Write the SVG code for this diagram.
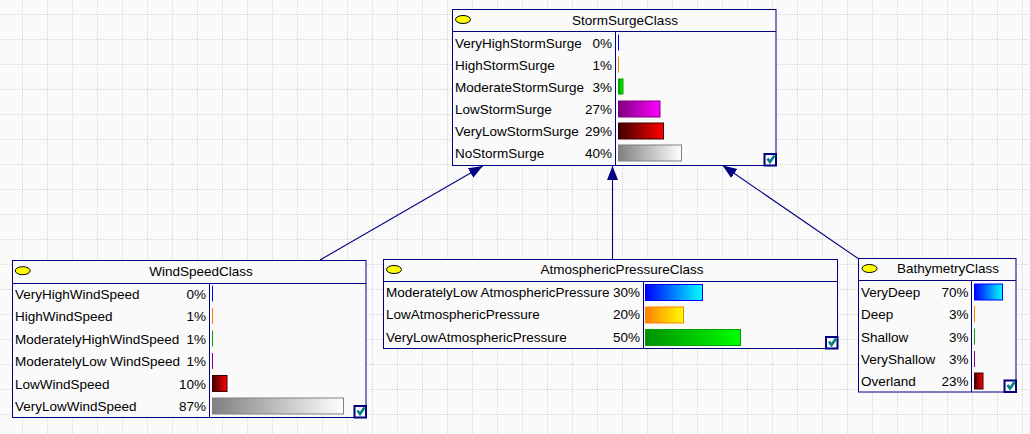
<svg xmlns="http://www.w3.org/2000/svg" width="1030" height="434" viewBox="0 0 1030 434">
<style>
text{font-family:"Liberation Sans",Arial,sans-serif;font-size:13.5px;fill:#000}
.t{text-anchor:middle}
.p{text-anchor:end}
.box{fill:#fafafa;stroke:#000080;stroke-width:1}
.sep{stroke:#000080;stroke-width:1;fill:none}
.ell{fill:#ffff00;stroke:#000;stroke-width:1}
.chk{fill:#fafafa;stroke:#000080;stroke-width:2}
.tick{fill:none;stroke:#008080;stroke-width:2.6;stroke-linejoin:miter}
.conn{stroke:#000080;stroke-width:1.1;fill:none;marker-end:url(#ah)}
.bB{fill:url(#gB);stroke:#0000ff}
.bO{fill:url(#gO);stroke:#ff8000}
.bG{fill:url(#gG);stroke:#00a000}
.bM{fill:url(#gM);stroke:#800080}
.bR{fill:url(#gR);stroke:#400000}
.bK{fill:url(#gK);stroke:#808080}
.lB{stroke:#0000ff;stroke-width:1}
.lO{stroke:#ff8000;stroke-width:1}
.lG{stroke:#00a000;stroke-width:1}
.lM{stroke:#800080;stroke-width:1}
</style>
<defs>
<pattern id="grid" x="22" y="14" width="25" height="25" patternUnits="userSpaceOnUse">
<path d="M0.5,0 V25 M0,0.5 H25" stroke="#d6d6d6" stroke-width="1" stroke-dasharray="1 1" fill="none"/>
</pattern>
<linearGradient id="gB"><stop offset="0" stop-color="#0000ff"/><stop offset="1" stop-color="#00ffff"/></linearGradient>
<linearGradient id="gO"><stop offset="0" stop-color="#ff8000"/><stop offset="1" stop-color="#ffff00"/></linearGradient>
<linearGradient id="gG"><stop offset="0" stop-color="#009000"/><stop offset="1" stop-color="#00ff00"/></linearGradient>
<linearGradient id="gM"><stop offset="0" stop-color="#800080"/><stop offset="1" stop-color="#ff00ff"/></linearGradient>
<linearGradient id="gR"><stop offset="0" stop-color="#400000"/><stop offset="1" stop-color="#ff0000"/></linearGradient>
<linearGradient id="gK"><stop offset="0" stop-color="#808080"/><stop offset="1" stop-color="#ffffff"/></linearGradient>
<marker id="ah" markerUnits="userSpaceOnUse" markerWidth="15" markerHeight="12" refX="14" refY="5.5" orient="auto">
<path d="M0,0 L14,5.5 L0,11 z" fill="#000080"/>
</marker>
</defs>
<rect width="1030" height="434" fill="#fafafa"/>
<rect width="1030" height="434" fill="url(#grid)"/>

<g id="connectors">
<line class="conn" x1="320" y1="260" x2="482.7" y2="166"/>
<line class="conn" x1="612.5" y1="259.5" x2="612.5" y2="166"/>
<line class="conn" x1="859.5" y1="259.5" x2="722.7" y2="165.5"/>
</g>

<g id="StormSurgeClass">
<rect class="box" x="452.5" y="9.5" width="323.5" height="156"/>
<line class="sep" x1="452.5" y1="31.5" x2="776" y2="31.5"/>
<line class="sep" x1="615.5" y1="31.5" x2="615.5" y2="165.5"/>
<ellipse class="ell" cx="463" cy="19.5" rx="7.5" ry="4"/>
<text class="t" x="625" y="24.5">StormSurgeClass</text>
<text x="455" y="47.5">VeryHighStormSurge</text><text class="p" x="612" y="47.5">0%</text>
<line class="lB" x1="618.5" y1="34.5" x2="618.5" y2="50.5"/>
<text x="455" y="69.6">HighStormSurge</text><text class="p" x="612" y="69.6">1%</text>
<line class="lO" x1="618.5" y1="56.6" x2="618.5" y2="72.6"/>
<text x="455" y="91.7">ModerateStormSurge</text><text class="p" x="612" y="91.7">3%</text>
<rect class="bG" x="618.5" y="79" width="4.5" height="15"/>
<text x="455" y="113.8">LowStormSurge</text><text class="p" x="612" y="113.8">27%</text>
<rect class="bM" x="618.5" y="101" width="41.5" height="16"/>
<text x="455" y="135.9">VeryLowStormSurge</text><text class="p" x="612" y="135.9">29%</text>
<rect class="bR" x="618.5" y="123" width="45" height="16"/>
<text x="455" y="158">NoStormSurge</text><text class="p" x="612" y="158">40%</text>
<rect class="bK" x="618.5" y="145" width="63" height="16"/>
<rect class="chk" x="764.5" y="154" width="11.5" height="11.5"/>
<path class="tick" d="M767.5,158.5 L770,162 L774.5,155.5"/>
</g>

<g id="WindSpeedClass">
<rect class="box" x="12.5" y="260.5" width="353.5" height="157"/>
<line class="sep" x1="12.5" y1="283.5" x2="366" y2="283.5"/>
<line class="sep" x1="209.5" y1="283.5" x2="209.5" y2="417.5"/>
<ellipse class="ell" cx="22.7" cy="270.7" rx="7.5" ry="4"/>
<text class="t" x="201" y="275.5">WindSpeedClass</text>
<text x="15" y="298.5">VeryHighWindSpeed</text><text class="p" x="206" y="298.5">0%</text>
<line class="lB" x1="212.5" y1="285.5" x2="212.5" y2="301.5"/>
<text x="15" y="321">HighWindSpeed</text><text class="p" x="206" y="321">1%</text>
<line class="lO" x1="212.5" y1="308" x2="212.5" y2="324"/>
<text x="15" y="343.5">ModeratelyHighWindSpeed</text><text class="p" x="206" y="343.5">1%</text>
<line class="lG" x1="212.5" y1="330.5" x2="212.5" y2="346.5"/>
<text x="15" y="366">ModeratelyLow WindSpeed</text><text class="p" x="206" y="366">1%</text>
<line class="lM" x1="212.5" y1="353" x2="212.5" y2="369"/>
<text x="15" y="388.5">LowWindSpeed</text><text class="p" x="206" y="388.5">10%</text>
<rect class="bR" x="212.5" y="375.5" width="14.5" height="16"/>
<text x="15" y="411">VeryLowWindSpeed</text><text class="p" x="206" y="411">87%</text>
<rect class="bK" x="212.5" y="398" width="131" height="16"/>
<rect class="chk" x="354.5" y="406" width="11.5" height="11.5"/>
<path class="tick" d="M357.5,410.5 L360,414 L364.5,407.5"/>
</g>

<g id="AtmosphericPressureClass">
<rect class="box" x="383.5" y="259.5" width="454" height="89"/>
<line class="sep" x1="383.5" y1="281.5" x2="837.5" y2="281.5"/>
<line class="sep" x1="643.5" y1="281.5" x2="643.5" y2="348.5"/>
<ellipse class="ell" cx="394" cy="269.5" rx="7.5" ry="4"/>
<text class="t" x="622" y="274.3">AtmosphericPressureClass</text>
<text x="386" y="297">ModeratelyLow AtmosphericPressure</text><text class="p" x="640" y="297">30%</text>
<rect class="bB" x="645.5" y="284.5" width="57" height="16"/>
<text x="386" y="319.4">LowAtmosphericPressure</text><text class="p" x="640" y="319.4">20%</text>
<rect class="bO" x="645.5" y="307" width="38" height="16"/>
<text x="386" y="341.8">VeryLowAtmosphericPressure</text><text class="p" x="640" y="341.8">50%</text>
<rect class="bG" x="645.5" y="329.5" width="95" height="16"/>
<rect class="chk" x="826" y="337" width="11.5" height="11.5"/>
<path class="tick" d="M829,341.5 L831.5,345 L836,338.5"/>
</g>

<g id="BathymetryClass">
<rect class="box" x="858.5" y="258.5" width="157.5" height="133.5"/>
<line class="sep" x1="858.5" y1="280.5" x2="1016" y2="280.5"/>
<line class="sep" x1="971.5" y1="280.5" x2="971.5" y2="392"/>
<ellipse class="ell" cx="869.5" cy="268.5" rx="7.5" ry="4"/>
<text class="t" x="948" y="273.3">BathymetryClass</text>
<text x="861" y="297">VeryDeep</text><text class="p" x="968.5" y="297">70%</text>
<rect class="bB" x="974.5" y="284" width="28" height="16"/>
<text x="861" y="319.3">Deep</text><text class="p" x="968.5" y="319.3">3%</text>
<line class="lO" x1="974.5" y1="306" x2="974.5" y2="322"/>
<text x="861" y="341.6">Shallow</text><text class="p" x="968.5" y="341.6">3%</text>
<line class="lG" x1="974.5" y1="328.5" x2="974.5" y2="344.5"/>
<text x="861" y="363.9">VeryShallow</text><text class="p" x="968.5" y="363.9">3%</text>
<line class="lM" x1="974.5" y1="351" x2="974.5" y2="367"/>
<text x="861" y="386.2">Overland</text><text class="p" x="968.5" y="386.2">23%</text>
<rect class="bR" x="974.5" y="373" width="8.5" height="16"/>
<rect class="chk" x="1004.5" y="380.5" width="11.5" height="11.5"/>
<path class="tick" d="M1007.5,385 L1010,388.5 L1014.5,382"/>
</g>
</svg>
